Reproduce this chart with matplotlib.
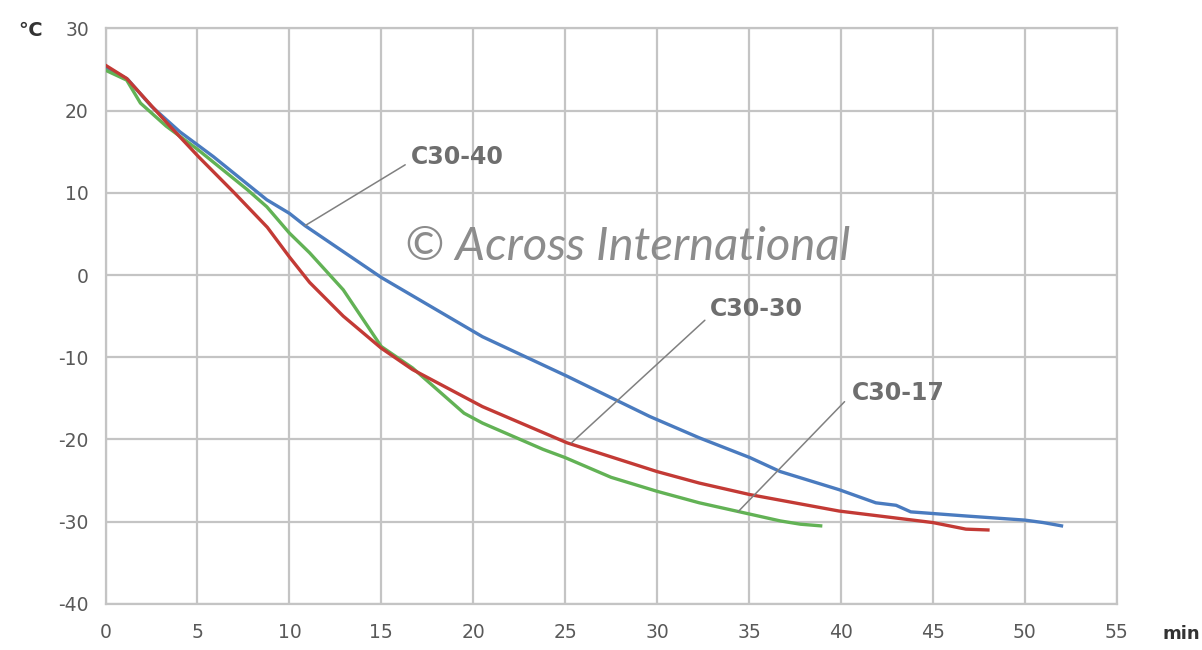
# import packages
import matplotlib.pyplot as plt

plt.rcParams['axes.unicode_minus'] = False

# data (time in min, temperature in deg C)
c30_40_t = [0, 1.2, 2.5, 4.05, 5.86, 8.77, 10, 10.85, 15, 20.5, 25.1, 29.6,
            32.3, 35.05, 36.7, 39.9, 41.9, 43.0, 43.8, 45.0, 46.8, 50.0, 51.0, 52.0]
c30_40_temp = [25.3, 23.8, 20.5, 17.4, 14.4, 9.15, 7.5, 6.0, -0.3, -7.5, -12.3, -17.2,
               -19.8, -22.2, -23.9, -26.1, -27.7, -28.0, -28.8, -29.0, -29.3, -29.8, -30.1, -30.5]

c30_30_t = [0, 1.15, 3.5, 5.05, 7.0, 8.8, 10, 11.1, 12.93, 15, 16.7, 20.5,
            25.1, 30, 32.3, 35.05, 39.9, 45, 46.8, 48]
c30_30_temp = [25.5, 23.9, 18.1, 14.4, 10.0, 5.8, 2.2, -0.9, -5.0, -8.9, -11.5, -16.0,
               -20.4, -23.9, -25.3, -26.7, -28.7, -30.1, -30.9, -31.0]

c30_17_t = [0, 1.15, 1.9, 3.3, 5.05, 7.7, 8.77, 10, 11.1, 12.93, 15, 16.7,
            19.5, 20.5, 23.8, 25, 27.5, 30, 32.3, 34.3, 36.7, 37.8, 38.9]
c30_17_temp = [24.9, 23.7, 20.9, 18.1, 15.2, 10.4, 8.3, 5.1, 2.7, -1.8, -8.7, -11.3,
               -16.8, -18, -21.2, -22.2, -24.6, -26.3, -27.7, -28.7, -29.9, -30.3, -30.5]

x_ticks = list(range(0, 60, 5))
y_ticks = list(range(-40, 40, 10))

# colours
grid_col = '#c4c4c4'
tick_col = '#595959'
label_col = '#6e6e6e'

# create figure
fig = plt.figure(figsize=(12.02, 6.5), dpi=100)
ax = fig.add_axes([0.0878, 0.0708, 0.8412, 0.8857])

ax.plot(c30_40_t, c30_40_temp, color='#4a7bbf', lw=2.4, zorder=3)
ax.plot(c30_17_t, c30_17_temp, color='#62b255', lw=2.4, zorder=3)
ax.plot(c30_30_t, c30_30_temp, color='#c33a35', lw=2.4, zorder=4)

# axes, grid
ax.set_xlim(0, 55)
ax.set_ylim(-40, 30)
ax.set_xticks(x_ticks)
ax.set_yticks(y_ticks)
ax.grid(True, color=grid_col, lw=1.6)
for s in ax.spines.values():
    s.set_color(grid_col)
    s.set_linewidth(1.6)
ax.tick_params(length=0, labelsize=13.5, labelcolor=tick_col, pad=12)
ax.tick_params(axis='x', pad=14)

# unit labels
fig.text(30 / 1202, 1 - 30 / 650, '℃', fontsize=14, color='#333333',
         ha='center', va='center', fontweight='bold')
fig.text(1181 / 1202, 1 - 634 / 650, 'min', fontsize=13, color='#333333',
         ha='center', va='center', fontweight='bold')

# series labels with leader lines
labels = [
    ('C30-40', (10.85, 6.0), (16.3, 13.4), (16.6, 14.4)),
    ('C30-30', (25.35, -20.4), (32.6, -5.5), (32.9, -4.1)),
    ('C30-17', (34.4, -28.8), (40.2, -15.4), (40.6, -14.4)),
]
for name, p0, p1, pt in labels:
    ax.annotate('', xy=p0, xytext=p1,
                arrowprops=dict(arrowstyle='-', color='#808080', lw=1.1,
                                shrinkA=0, shrinkB=0), zorder=5)
    ax.text(pt[0], pt[1], name, fontsize=17, fontweight='bold',
            color=label_col, ha='left', va='center', zorder=6)

# watermark
ax.text(28.4, 3.4, '© Across International', fontsize=34, color='#8c8c8c',
        fontstyle='italic', fontweight='normal', ha='center', va='center',
        family=['Lato', 'DejaVu Sans'], zorder=2)

# save the plot
fig.savefig('out.png', dpi=100)
